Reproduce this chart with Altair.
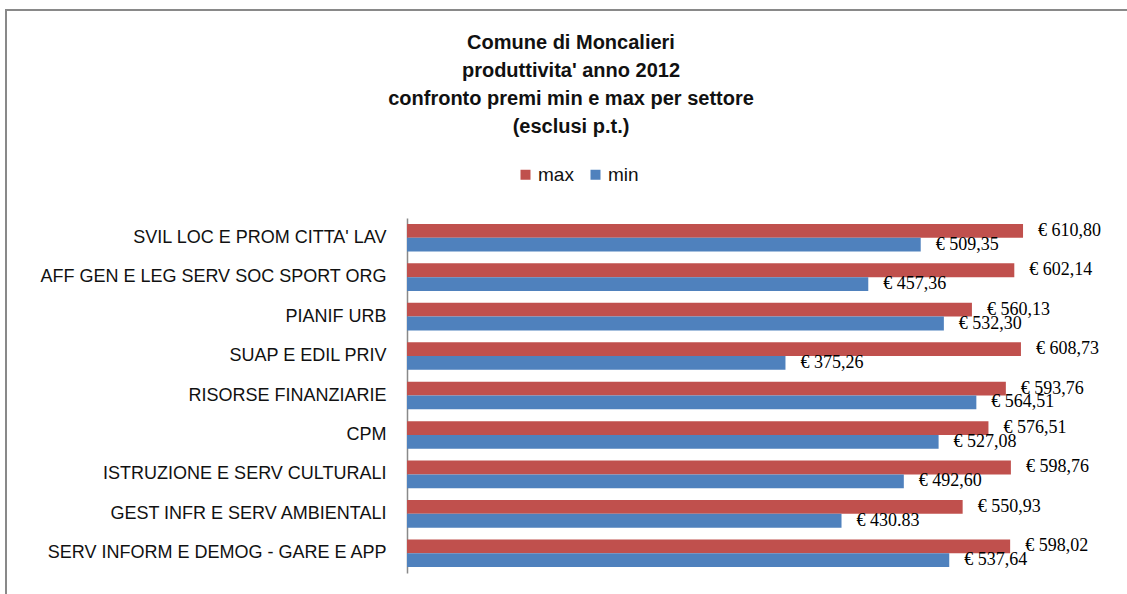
import altair as alt
import pandas as pd

categories = [
    "SVIL LOC E PROM CITTA' LAV",
    "AFF GEN E LEG SERV SOC SPORT ORG",
    "PIANIF URB",
    "SUAP E EDIL PRIV",
    "RISORSE FINANZIARIE",
    "CPM",
    "ISTRUZIONE E SERV CULTURALI",
    "GEST INFR E SERV AMBIENTALI",
    "SERV INFORM E DEMOG - GARE E APP",
]
max_values = [610.80, 602.14, 560.13, 608.73, 593.76, 576.51, 598.76, 550.93, 598.02]
min_values = [509.35, 457.36, 532.30, 375.26, 564.51, 527.08, 492.60, 430.83, 537.64]
max_labels = ["€ 610,80", "€ 602,14", "€ 560,13", "€ 608,73", "€ 593,76",
              "€ 576,51", "€ 598,76", "€ 550,93", "€ 598,02"]
min_labels = ["€ 509,35", "€ 457,36", "€ 532,30", "€ 375,26", "€ 564,51",
              "€ 527,08", "€ 492,60", "€ 430.83", "€ 537,64"]
series = ["max", "min"]
colors = ["#C0504D", "#4F81BD"]

rows = []
for c, v, l in zip(categories, max_values, max_labels):
    rows.append({"settore": c, "serie": "max", "valore": v, "etichetta": l})
for c, v, l in zip(categories, min_values, min_labels):
    rows.append({"settore": c, "serie": "min", "valore": v, "etichetta": l})
df = pd.DataFrame(rows)

W, H = 706, 355
LEFT, TOP = 407, 218

y_enc = alt.Y("settore:N", sort=categories,
              scale=alt.Scale(paddingInner=0.3, paddingOuter=0.15),
              axis=alt.Axis(title=None, ticks=False, domainColor="#898989",
                            domainWidth=1.5, labelFont="Liberation Sans",
                            labelFontSize=18, labelColor="#111111",
                            labelPadding=21, labelLimit=0))
x_enc = alt.X("valore:Q", scale=alt.Scale(domain=[0, 700], nice=False),
              axis=None)
off_enc = alt.YOffset("serie:N", sort=series)

base = alt.Chart(df)

bars = base.mark_bar().encode(
    y=y_enc, x=x_enc, yOffset=off_enc,
    color=alt.Color("serie:N", sort=series,
                    scale=alt.Scale(domain=series, range=colors),
                    legend=alt.Legend(title=None, orient="none", direction="horizontal",
                                      legendX=109, legendY=-53, symbolType="square",
                                      symbolSize=100, symbolStrokeWidth=0,
                                      labelFont="Liberation Sans", labelFontSize=19,
                                      labelColor="#111111", labelOffset=3,
                                      columnPadding=12, padding=0)),
)

texts = base.mark_text(align="left", baseline="middle", dx=15,
                       font="Liberation Serif", fontSize=18, color="#000000").encode(
    y=alt.Y("settore:N", sort=categories), x="valore:Q", yOffset=off_enc,
    text="etichetta:N",
)

frame_top = base.mark_rule(color="#898989", strokeWidth=2).encode(
    x=alt.value(5 - LEFT), x2=alt.value(1127 - LEFT), y=alt.value(10 - TOP))
frame_left = base.mark_rule(color="#898989", strokeWidth=2).encode(
    x=alt.value(6 - LEFT), y=alt.value(10 - TOP), y2=alt.value(594 - TOP))

chart = alt.layer(bars, texts, frame_top, frame_left).properties(
    width=W, height=H,
    title=alt.TitleParams(
        text=["Comune di Moncalieri", "produttivita' anno 2012",
              "confronto premi min e max per settore", "(esclusi p.t.)"],
        font="Liberation Sans", fontSize=20, fontWeight="bold", color="#111111",
        lineHeight=28, anchor="middle", frame="group", dx=571 - (LEFT + W / 2),
        offset=0, dy=128),
    autosize=alt.AutoSizeParams(type="none"),
    padding={"left": LEFT, "top": TOP, "right": 1127 - LEFT - W, "bottom": 594 - TOP - H},
).configure(background="white").configure_view(stroke=None)

chart.save("out.html", embed_options={"renderer": "svg", "actions": False})
